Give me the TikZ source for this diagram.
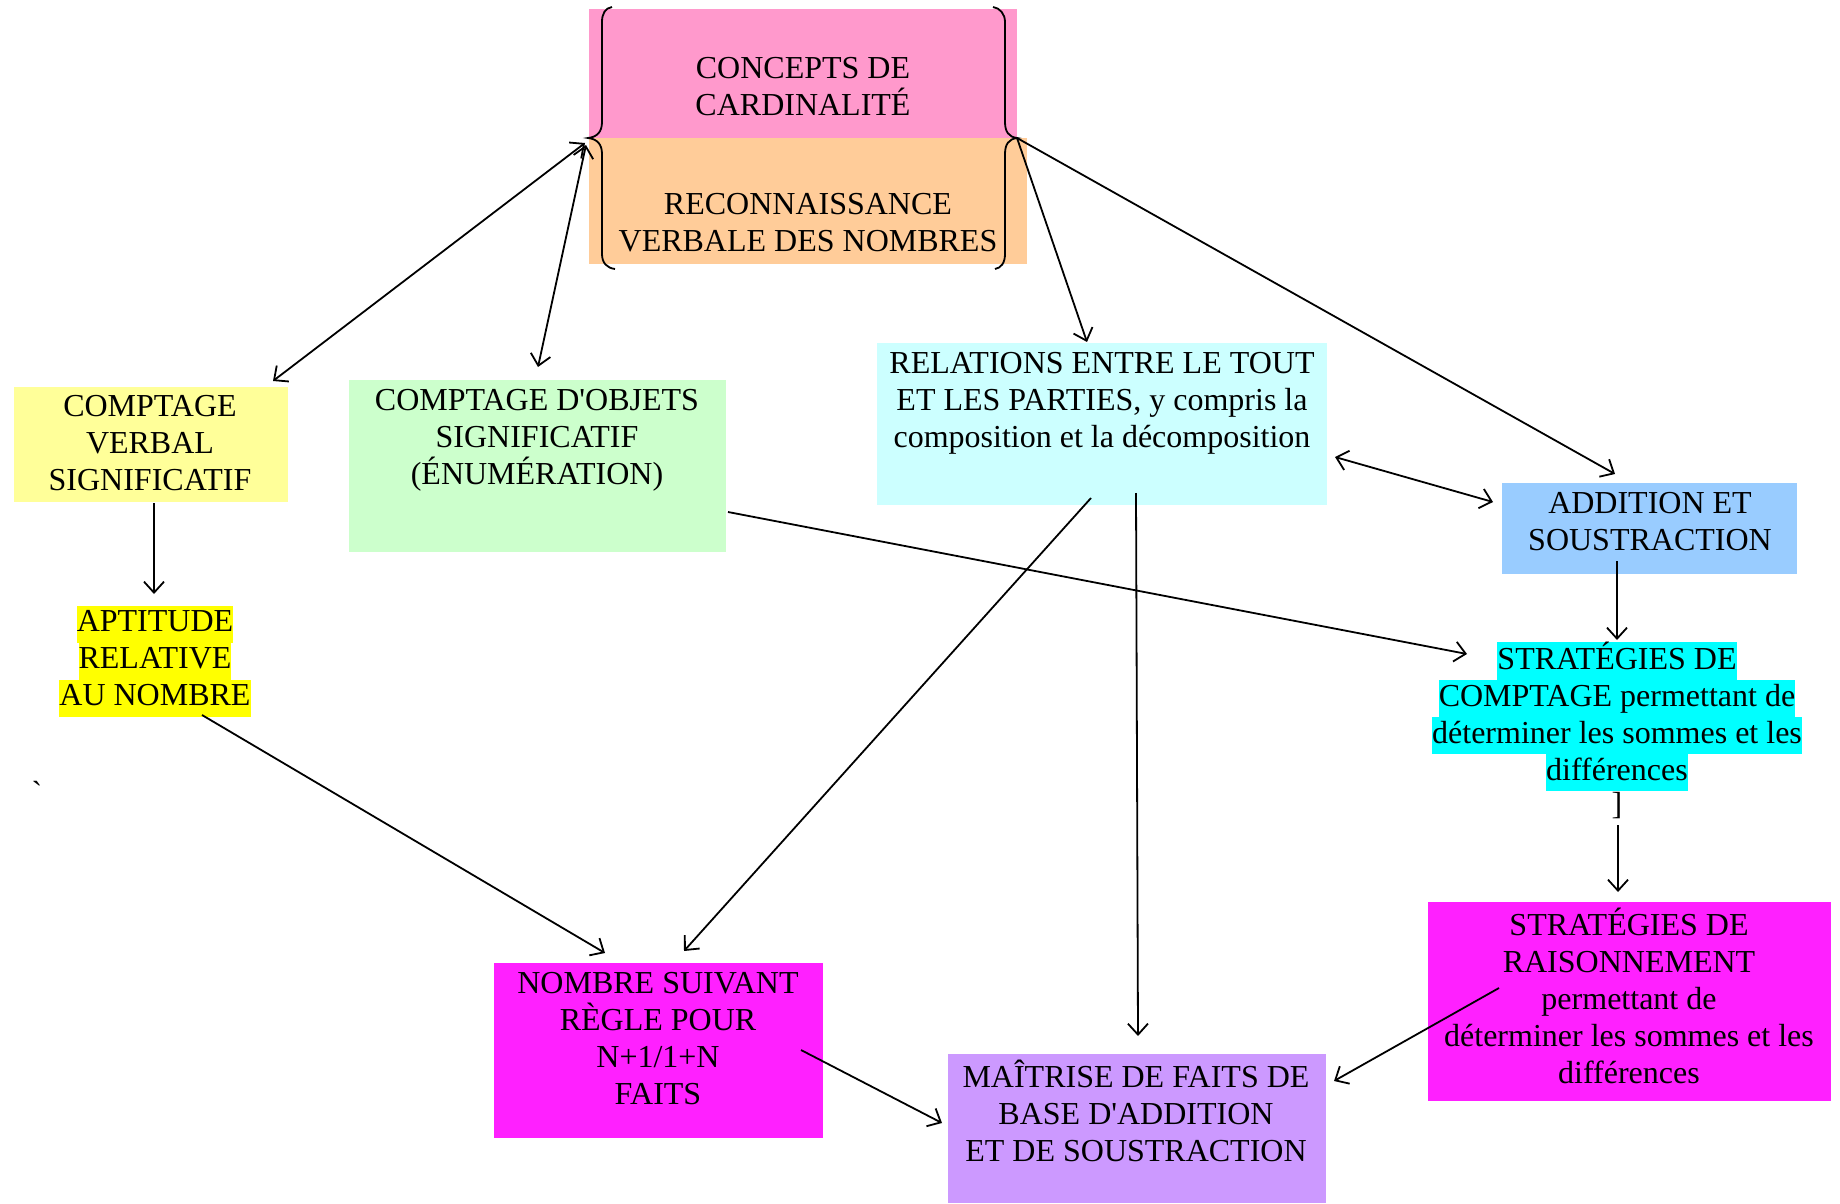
\documentclass[tikz,border=0pt]{standalone}
\usepackage{fontspec}
\setmainfont{Liberation Serif}
\newfontfamily\rawserif[Ligatures=TeXOff]{Liberation Serif}
\usetikzlibrary{arrows.meta}
\definecolor{cpink}{HTML}{FF99CC}
\definecolor{corange}{HTML}{FFCC99}
\definecolor{clyellow}{HTML}{FFFF99}
\definecolor{cyellow}{HTML}{FFFF00}
\definecolor{clgreen}{HTML}{CCFFCC}
\definecolor{clcyan}{HTML}{CCFFFF}
\definecolor{cblue}{HTML}{99CCFF}
\definecolor{ccyan}{HTML}{00FFFF}
\definecolor{cmagenta}{HTML}{FF20FF}
\definecolor{cpurple}{HTML}{CC99FF}
\newcommand\hlbox[2]{{\setlength{\fboxsep}{0pt}\colorbox{#1}{\strut #2}}}
\begin{document}
\begin{tikzpicture}[x=1pt,y=-1pt,
  box/.style={draw=none, inner sep=0pt, outer sep=0pt},
  txt/.style={align=center, inner sep=0pt, font=\fontsize{32}{37}\selectfont, execute at begin node=\strut, execute at end node=\strut},
  hltxt/.style={align=center, inner sep=0pt, font=\fontsize{32}{37}\selectfont},
  arr/.style={line width=1.8pt, -{Straight Barb[length=11pt,width=20pt]}},
  darr/.style={line width=1.8pt, {Straight Barb[length=11pt,width=20pt]}-{Straight Barb[length=11pt,width=20pt]}},
  brace/.style={line width=1.8pt},
]
\useasboundingbox (0,0) rectangle (1840,1204);
% boxes
\node[box, fill=cpink, minimum width=428pt, minimum height=129pt] (pink) at (803,73.5) {};
\node[box, fill=corange, minimum width=438pt, minimum height=126pt] (orange) at (808,201) {};
\node[box, fill=clyellow, minimum width=274pt, minimum height=115pt] (verbal) at (151,444.5) {};
\node[box, fill=clgreen, minimum width=377pt, minimum height=172pt] (objets) at (537.5,466) {};
\node[box, fill=clcyan, minimum width=450pt, minimum height=162pt] (relations) at (1102,424) {};
\node[box, fill=cblue, minimum width=295pt, minimum height=91pt] (addition) at (1649.5,528.5) {};
\node[box, fill=cmagenta, minimum width=403pt, minimum height=199pt] (raison) at (1629.5,1001.5) {};
\node[box, fill=cmagenta, minimum width=329pt, minimum height=175pt] (nombre) at (658.5,1050.5) {};
\node[box, fill=cpurple, minimum width=378pt, minimum height=149pt] (maitrise) at (1137,1128.5) {};
% braces
\coordinate (ltip) at (588,138);
\coordinate (rtip) at (1017,138);
\draw[brace] (612,7) .. controls (605,8) and (602,14) .. (602,22) -- (602,122) .. controls (602,132) and (597,137) .. (ltip) .. controls (597,139) and (602,144) .. (602,154) -- (602,254) .. controls (602,263) and (607,268) .. (615,269);
\draw[brace] (993,7) .. controls (1000,8) and (1005,14) .. (1005,22) -- (1005,122) .. controls (1005,132) and (1009,137) .. (rtip) .. controls (1009,139) and (1005,144) .. (1005,154) -- (1005,254) .. controls (1005,263) and (1001,268) .. (995,269);
% texts
\node[txt] (cct) at (803,91.5) {CONCEPTS DE\\CARDINALITÉ};
\node[txt] (rvt) at (808,227.5) {RECONNAISSANCE\\VERBALE DES NOMBRES};
\node[txt] (verbalt) at (150,448.5) {COMPTAGE\\VERBAL\\SIGNIFICATIF};
\node[hltxt] (apt) at (155,661.5) {\hlbox{cyellow}{APTITUDE}\\\hlbox{cyellow}{RELATIVE}\\\hlbox{cyellow}{AU NOMBRE}};
\node[txt] (grave) at (37,796) {\rawserif\symbol{96}};
\node[txt] (objetst) at (537,442.5) {COMPTAGE D\textquotesingle OBJETS\\SIGNIFICATIF\\(ÉNUMÉRATION)};
\node[txt] (relationst) at (1102,405.5) {RELATIONS ENTRE LE TOUT\\ET LES PARTIES, y compris la\\composition et la décomposition};
\node[txt] (additiont) at (1650,526.5) {ADDITION ET\\SOUSTRACTION};
\node[hltxt] (comptage) at (1617,716.5) {\hlbox{ccyan}{STRATÉGIES DE}\\\hlbox{ccyan}{COMPTAGE permettant de}\\\hlbox{ccyan}{déterminer les sommes et les}\\\hlbox{ccyan}{différences}};
\node[txt] (bracket) at (1617,807.5) {]};
\node[txt] (raisont) at (1629,1001.5) {STRATÉGIES DE\\RAISONNEMENT\\permettant de\\déterminer les sommes et les\\différences};
\node[txt] (nombret) at (658,1043.5) {NOMBRE SUIVANT\\RÈGLE POUR\\N+1/1+N\\FAITS};
\node[txt] (maitriset) at (1136,1116.5) {MAÎTRISE DE FAITS DE\\BASE D\textquotesingle ADDITION\\ET DE SOUSTRACTION};
% connector end points
\coordinate (a1s) at (273,381); \coordinate (a1e) at (585,143);
\coordinate (a2s) at (538,367); \coordinate (a2e) at (586,145);
\coordinate (a3e) at (1087,342);
\coordinate (a4e) at (1615,474);
\coordinate (a5s) at (1335,457); \coordinate (a5e) at (1493,502);
\coordinate (a6s) at (1617,561); \coordinate (a6e) at (1617,640);
\coordinate (a7s) at (728,512); \coordinate (a7e) at (1467,654);
\coordinate (a8s) at (1091,498); \coordinate (a8e) at (684,951);
\coordinate (a9s) at (1136,493); \coordinate (a9e) at (1138,1036);
\coordinate (a10s) at (202,715); \coordinate (a10e) at (605,953);
\coordinate (a11s) at (801,1050); \coordinate (a11e) at (942,1123);
\coordinate (a12s) at (1499,988); \coordinate (a12e) at (1334,1081);
\coordinate (a13s) at (1618,825); \coordinate (a13e) at (1618,892);
\coordinate (a14s) at (154,503); \coordinate (a14e) at (154,594);
% connectors
\draw[darr] (a1s) -- (a1e);
\draw[darr] (a2s) -- (a2e);
\draw[arr] (rtip) -- (a3e);
\draw[arr] (rtip) -- (a4e);
\draw[darr] (a5s) -- (a5e);
\draw[arr] (a6s) -- (a6e);
\draw[arr] (a7s) -- (a7e);
\draw[arr] (a8s) -- (a8e);
\draw[arr] (a9s) -- (a9e);
\draw[arr] (a10s) -- (a10e);
\draw[arr] (a11s) -- (a11e);
\draw[arr] (a12s) -- (a12e);
\draw[arr] (a13s) -- (a13e);
\draw[arr] (a14s) -- (a14e);
\end{tikzpicture}
\end{document}
